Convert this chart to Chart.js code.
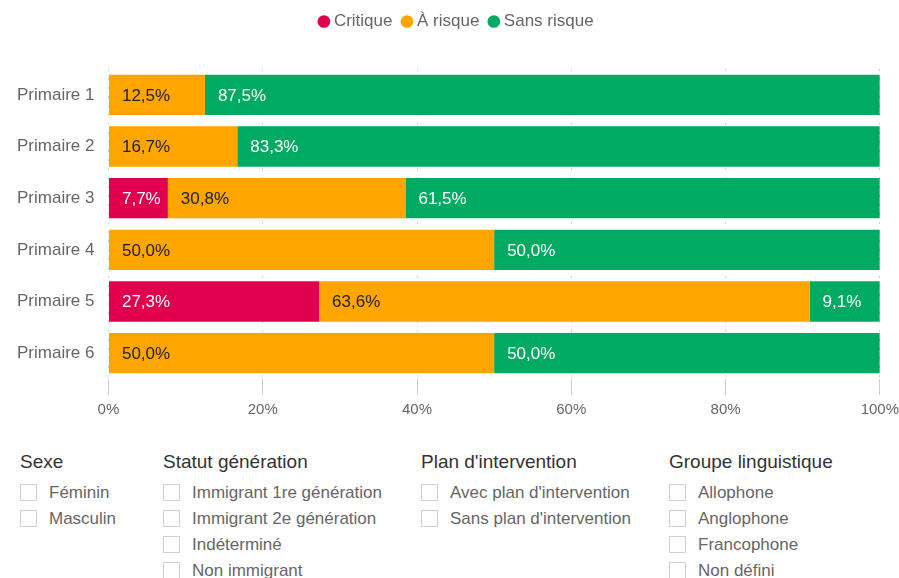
<!DOCTYPE html>
<html>
<head>
<meta charset="utf-8">
<script src="https://cdn.jsdelivr.net/npm/chart.js@4"></script>
<style>
  html, body { margin: 0; background: #fff; overflow: hidden; font-family: "Liberation Sans", Arial, sans-serif; }
  #wrap { position: relative; width: 905px; height: 425px; }
  .col { position: absolute; top: 450px; }
  .col h3 { margin: 0 0 6px 0; font-size: 19px; font-weight: normal; color: #333; line-height: 24px; }
  .col label { display: block; font-size: 17px; color: #666; line-height: 26px; height: 26px; white-space: nowrap; }
  .col label span.box { display: inline-block; width: 15px; height: 15px; border: 1px solid #d0d0d0; vertical-align: -3px; margin-right: 12px; }
</style>
</head>
<body>
<div id="wrap"><canvas id="niveauChart"></canvas></div>
<div class="col" style="left:20px">
  <h3>Sexe</h3>
  <label><span class="box"></span>Féminin</label>
  <label><span class="box"></span>Masculin</label>
</div>
<div class="col" style="left:163px">
  <h3>Statut génération</h3>
  <label><span class="box"></span>Immigrant 1re génération</label>
  <label><span class="box"></span>Immigrant 2e génération</label>
  <label><span class="box"></span>Indéterminé</label>
  <label><span class="box"></span>Non immigrant</label>
</div>
<div class="col" style="left:421px">
  <h3>Plan d'intervention</h3>
  <label><span class="box"></span>Avec plan d'intervention</label>
  <label><span class="box"></span>Sans plan d'intervention</label>
</div>
<div class="col" style="left:669px">
  <h3>Groupe linguistique</h3>
  <label><span class="box"></span>Allophone</label>
  <label><span class="box"></span>Anglophone</label>
  <label><span class="box"></span>Francophone</label>
  <label><span class="box"></span>Non défini</label>
</div>
<script>
// niveaux et pourcentages par categorie de risque
const niveaux = ['Primaire 1', 'Primaire 2', 'Primaire 3', 'Primaire 4', 'Primaire 5', 'Primaire 6'];
const critique = [0, 0, 7.7, 0, 27.3, 0];
const aRisque = [12.5, 16.7, 30.8, 50.0, 63.6, 50.0];
const sansRisque = [87.5, 83.3, 61.5, 50.0, 9.1, 50.0];
const ticksX = [0, 20, 40, 60, 80, 100];

// petites etiquettes dans les barres (pas de plugin datalabels dispo)
const etiquettes = {
  id: 'etiquettes',
  afterDatasetsDraw(chart) {
    const ctx = chart.ctx;
    ctx.save();
    ctx.font = '17px "Liberation Sans", Arial, sans-serif';
    ctx.textBaseline = 'middle';
    ctx.textAlign = 'left';
    chart.data.datasets.forEach((ds, i) => {
      const meta = chart.getDatasetMeta(i);
      meta.data.forEach((bar, j) => {
        const v = ds.data[j];
        if (!v) return;
        const gauche = Math.min(bar.x, bar.base);
        ctx.fillStyle = ds.labelColor;
        ctx.fillText(v.toFixed(1).replace('.', ',') + '%', gauche + 13, bar.y + 1);
      });
    });
    ctx.restore();
  }
};

// un peu d'espace sous la legende
const espaceLegende = {
  id: 'espaceLegende',
  beforeInit(chart) {
    const fitOrig = chart.legend.fit;
    chart.legend.fit = function () {
      fitOrig.bind(chart.legend)();
      this.height += 29;
    };
  }
};

Chart.defaults.font.family = '"Liberation Sans", Arial, sans-serif';
Chart.defaults.font.size = 17;
Chart.defaults.color = '#666';

const ctx = document.getElementById('niveauChart').getContext('2d');
new Chart(ctx, {
  type: 'bar',
  data: {
    labels: niveaux,
    datasets: [
      { label: 'Critique', data: critique, backgroundColor: '#e0004d', labelColor: '#fff' },
      { label: 'À risque', data: aRisque, backgroundColor: '#ffa500', labelColor: '#222' },
      { label: 'Sans risque', data: sansRisque, backgroundColor: '#00aa63', labelColor: '#fff' }
    ]
  },
  options: {
    indexAxis: 'y',
    responsive: true,
    maintainAspectRatio: false,
    animation: false,
    barPercentage: 0.78,
    categoryPercentage: 1,
    layout: { padding: { left: 11, right: 0, top: 0, bottom: 0 } },
    plugins: {
      legend: {
        position: 'top',
        labels: { usePointStyle: true, pointStyle: 'circle', boxWidth: 3, boxHeight: 9, padding: 13, font: { size: 17 } }
      },
      tooltip: { enabled: false }
    },
    scales: {
      x: {
        stacked: true,
        min: 0,
        max: 100,
        afterBuildTicks: axis => { axis.ticks = ticksX.map(v => ({ value: v })); },
        ticks: { callback: v => v + '%', padding: 6, font: { size: 15 } },
        grid: { color: '#cfcfcf', tickLength: 16, drawTicks: true },
        border: { display: false, dash: [2, 7] }
      },
      y: {
        stacked: true,
        grid: { display: false },
        border: { display: false },
        ticks: { padding: 6 }
      }
    }
  },
  plugins: [etiquettes, espaceLegende]
});
</script>
</body>
</html>
